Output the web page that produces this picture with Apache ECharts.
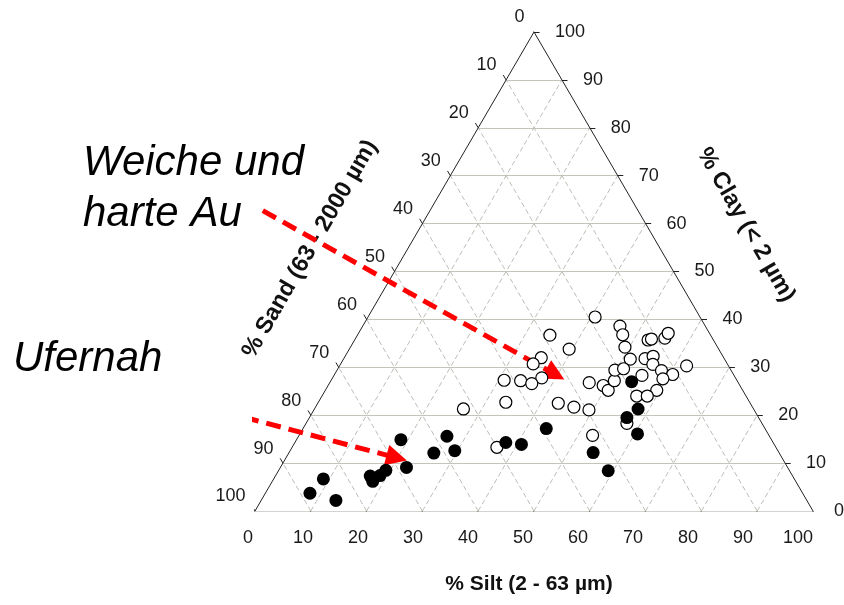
<!DOCTYPE html>
<html>
<head>
<meta charset="utf-8">
<script src="https://cdn.jsdelivr.net/npm/echarts@6/dist/echarts.min.js"></script>
<style>
  html, body { margin: 0; background: #fff; }
  #main { width: 844px; height: 605px; }
</style>
</head>
<body>
<div id="main"></div>
<script>
// tick values shared by the three axes
const tickValues = [0, 10, 20, 30, 40, 50, 60, 70, 80, 90, 100];
const gridValues = [10, 20, 30, 40, 50, 60, 70, 80, 90];

// Ufernah (filled dots) - % silt and % clay, sand = rest
const uferSilt = [8.0, 8.9, 13.4, 17.0, 18.0, 18.7, 19.2, 18.7, 22.6, 26.0, 26.6, 29.5, 37.8, 40.8, 43.6, 54.5, 59.1, 54.0, 58.0, 56.9, 60.5];
const uferClay = [3.7, 6.7, 2.2, 7.3, 6.2, 7.4, 8.5, 14.9, 9.1, 12.1, 15.6, 12.6, 14.3, 13.9, 17.2, 12.2, 8.4, 27.0, 21.3, 19.5, 16.1];

// Weiche und harte Au (open circles)
const auSilt = [40.7, 34.5, 39.4, 35.3, 34.5, 37.5, 31.0, 34.0, 36.3, 33.6, 43.1, 46.3, 49.3, 46.5, 49.3, 50.7, 50.8, 49.8, 46.1, 47.5,
  49.2, 52.6, 53.1, 55.4, 55.5, 51.4, 54.0, 55.2, 56.0, 58.2, 60.6, 62.2, 55.2, 51.2, 59.4, 56.4, 58.3, 59.3, 52.6, 57.5, 36.7, 26.7];
const auClay = [40.5, 36.7, 33.8, 32.0, 30.7, 27.8, 27.3, 27.2, 26.6, 22.7, 22.5, 21.7, 21.1, 26.8, 26.2, 25.2, 27.2, 29.4, 38.6, 36.8,
  34.2, 35.7, 35.9, 36.1, 37.1, 31.7, 31.8, 32.3, 30.6, 29.3, 28.5, 30.3, 28.3, 29.7, 25.2, 24.0, 24.0, 27.6, 15.8, 18.3, 13.3, 21.3];

// annotation arrows, in plot units (x = silt + clay/2, y = clay)
const arrowAu = [[1.4, 62.7], [53.8, 28.5]];
const arrowUfer = [[-17.9, 24.5], [25.4, 11.1]];

// ternary -> plane
function tern(silt, clay) {
  return [silt + clay / 2, clay];
}

const labelFont = '18px "Liberation Sans", Arial, sans-serif';
const titleFont = 'bold 21px "Liberation Sans", Arial, sans-serif';
const sideTitleFont = 'bold 23.5px "Liberation Sans", Arial, sans-serif';
const noteFont = 'italic 42px "Liberation Sans", Arial, sans-serif';

function segs(list, style) {
  return {
    type: 'lines',
    coordinateSystem: 'cartesian2d',
    silent: true,
    polyline: false,
    lineStyle: style,
    data: list.map(c => ({ coords: c }))
  };
}

function labelSeries(points, dx, dy, align) {
  return {
    type: 'custom',
    coordinateSystem: 'cartesian2d',
    silent: true,
    data: points,
    renderItem: function (params, api) {
      const p = api.coord([api.value(0), api.value(1)]);
      const v = tickValues[params.dataIndex];
      return {
        type: 'text',
        x: p[0] + (typeof dx === 'function' ? dx(v) : dx),
        y: p[1] + dy,
        style: {
          text: String(v),
          fill: '#1a1a1a',
          font: labelFont,
          align: align,
          verticalAlign: 'middle'
        }
      };
    }
  };
}

const clayLines = gridValues.map(c => [tern(0, c), tern(100 - c, c)]);
const siltLines = gridValues.map(s => [tern(s, 0), tern(s, 100 - s)]);
const sandLines = gridValues.map(d => [tern(100 - d, 0), tern(0, 100 - d)]);

const bottomTicks = tickValues.map(s => [tern(s, 0), tern(s, -1)]);
const rightTicks = tickValues.map(c => [tern(100 - c, c), tern(101 - c, c)]);
const leftTicks = tickValues.map(d => [tern(0, 100 - d), tern(-1, 101 - d)]);

const option = {
  animation: false,
  grid: { left: 255, top: 32, width: 558, height: 479 },
  xAxis: { type: 'value', min: 0, max: 100, show: false },
  yAxis: { type: 'value', min: 0, max: 100, show: false },
  graphic: [
    { type: 'text', x: 83, y: 163, style: { text: 'Weiche und', font: noteFont, fill: '#000', verticalAlign: 'middle' } },
    { type: 'text', x: 83, y: 214, style: { text: 'harte Au', font: noteFont, fill: '#000', verticalAlign: 'middle' } },
    { type: 'text', x: 13, y: 359, style: { text: 'Ufernah', font: noteFont, fill: '#000', verticalAlign: 'middle' } },
    { type: 'text', x: 529, y: 584, style: { text: '% Silt (2 - 63 µm)', font: titleFont, fill: '#111', align: 'center', verticalAlign: 'middle' } },
    { type: 'text', x: 310, y: 249, rotation: Math.PI / 3, style: { text: '% Sand (63 - 2000 µm)', font: sideTitleFont, fill: '#111', align: 'center', verticalAlign: 'middle' } },
    { type: 'text', x: 746, y: 225, rotation: -Math.PI / 3, style: { text: '% Clay (< 2 µm)', font: sideTitleFont, fill: '#111', align: 'center', verticalAlign: 'middle' } }
  ],
  series: [
    segs(clayLines, { color: '#c4c4bc', width: 1.2, type: 'solid', opacity: 1 }),
    segs(siltLines.concat(sandLines), { color: '#bdbdb5', width: 1, type: [5, 3], opacity: 1 }),
    segs([[tern(0, 0), tern(100, 0)]], { color: '#a8a8a0', width: 1.2, opacity: 1 }),
    segs([[tern(0, 0), tern(0, 100)], [tern(0, 100), tern(100, 0)]], { color: '#222', width: 1, opacity: 1 }),
    segs(bottomTicks.concat(rightTicks, leftTicks), { color: '#222', width: 1, opacity: 1 }),
    labelSeries(tickValues.map(s => tern(s, 0)), v => -7 - 0.08 * v, 27, 'center'),
    labelSeries(tickValues.map(c => tern(100 - c, c)), 21, 0, 'left'),
    labelSeries(tickValues.map(d => tern(0, 100 - d)), -9.5, -14.5, 'right'),
    {
      name: 'Weiche und harte Au',
      type: 'scatter',
      symbol: 'circle',
      symbolSize: 12,
      itemStyle: { color: '#fff', borderColor: '#000', borderWidth: 1.2, opacity: 1 },
      data: auSilt.map((s, i) => tern(s, auClay[i]))
    },
    {
      name: 'Ufernah',
      type: 'scatter',
      symbol: 'circle',
      symbolSize: 13,
      itemStyle: { color: '#000', borderColor: '#000', borderWidth: 0, opacity: 1 },
      data: uferSilt.map((s, i) => tern(s, uferClay[i]))
    },
    {
      type: 'lines',
      coordinateSystem: 'cartesian2d',
      silent: true,
      symbol: ['none', 'triangle'],
      symbolSize: 21,
      lineStyle: { color: '#ff0000', width: 5, type: [15, 8], opacity: 1 },
      data: [{ coords: arrowAu }, { coords: arrowUfer }]
    }
  ]
};

const chart = echarts.init(document.getElementById('main'));
chart.setOption(option);
</script>
</body>
</html>
